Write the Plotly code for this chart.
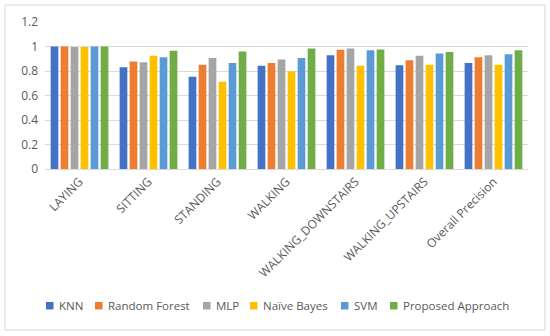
import plotly.graph_objects as go

categories = ["LAYING", "SITTING", "STANDING", "WALKING", "WALKING_DOWNSTAIRS",
              "WALKING_UPSTAIRS", "Overall Precision"]
series_names = ["KNN", "Random Forest", "MLP", "Naïve Bayes", "SVM", "Proposed Approach"]
knn = [1.00, 0.83, 0.754, 0.842, 0.929, 0.847, 0.866]
random_forest = [1.00, 0.877, 0.852, 0.866, 0.973, 0.888, 0.912]
mlp = [0.995, 0.871, 0.907, 0.893, 0.984, 0.924, 0.929]
naive_bayes = [0.995, 0.924, 0.713, 0.798, 0.842, 0.852, 0.852]
svm = [1.00, 0.912, 0.866, 0.907, 0.970, 0.943, 0.937]
proposed = [1.00, 0.965, 0.959, 0.984, 0.975, 0.956, 0.970]
y_ticks = [0, 0.2, 0.4, 0.6, 0.8, 1, 1.2]
y_tick_labels = ["0", "0.2", "0.4", "0.6", "0.8", "1", "1.2"]

colors = ["#4472C4", "#ED7D31", "#A5A5A5", "#FFC000", "#5B9BD5", "#70AD47"]
all_values = [knn, random_forest, mlp, naive_bayes, svm, proposed]

fig = go.Figure()
for name, vals, c in zip(series_names, all_values, colors):
    fig.add_trace(go.Bar(name=name, x=categories, y=vals, marker_color=c,
                         marker_line_width=0, showlegend=False))

# custom compact legend (Excel-like): small square + label
ML, PW = 45, 483  # plot-area left edge and width in px
legend_square_px = [46, 95, 203, 250, 341, 390]
legend_y = -0.93
shapes = [dict(type="rect", xref="paper", yref="paper",
               x0=-0.083, x1=1.035, y0=-1.095, y1=1.116,
               line=dict(color="#D9D9D9", width=1), fillcolor="rgba(0,0,0,0)",
               layer="below")]
annotations = []
for name, c, px in zip(series_names, colors, legend_square_px):
    x0 = (px - ML) / PW
    x1 = (px + 7.5 - ML) / PW
    shapes.append(dict(type="rect", xref="paper", yref="paper",
                       x0=x0, x1=x1, y0=legend_y - 3.75 / 147, y1=legend_y + 3.75 / 147,
                       line=dict(width=0), fillcolor=c))
    annotations.append(dict(xref="paper", yref="paper", x=(px + 10.5 - ML) / PW,
                            y=legend_y, text=name, showarrow=False,
                            xanchor="left", yanchor="middle",
                            font=dict(size=11.5, color="#595959")))

font_family = "Open Sans, Liberation Sans, sans-serif"
fig.update_layout(
    width=550, height=336,
    margin=dict(l=45, r=22, t=22, b=167, autoexpand=False),
    paper_bgcolor="white", plot_bgcolor="white",
    barmode="group", bargap=0.13, bargroupgap=0.23,
    font=dict(family=font_family, size=11, color="#595959"),
    showlegend=False,
    xaxis=dict(tickangle=-45, showgrid=False, showline=True, linecolor="#D9D9D9",
               ticks="", automargin=False, tickfont=dict(size=12, color="#595959")),
    yaxis=dict(range=[0, 1.2], tickvals=y_ticks, ticktext=y_tick_labels,
               showgrid=True, gridcolor="#D9D9D9", gridwidth=1, zeroline=False,
               showline=False, ticks="", automargin=False, ticklabelstandoff=6,
               tickfont=dict(size=12, color="#595959")),
    shapes=shapes,
    annotations=annotations,
)

fig.write_html("out.html", config={"displayModeBar": False},
               post_script="document.body.style.margin='0';")
